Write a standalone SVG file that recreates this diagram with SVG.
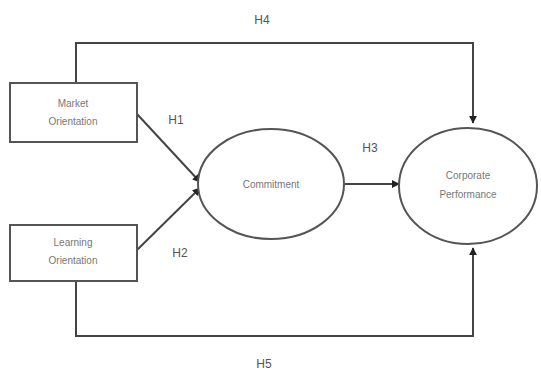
<svg xmlns="http://www.w3.org/2000/svg" width="541" height="374" viewBox="0 0 541 374">
<defs>
<marker id="ah" viewBox="0 0 10 10" refX="9" refY="5" markerWidth="4" markerHeight="4" orient="auto"><path d="M0,0 L10,5 L0,10 z" fill="#222"/></marker>
<style>
.box{fill:#fff;stroke:#555;stroke-width:2}
.ell{fill:#fff;stroke:#555;stroke-width:2}
.t{font-family:"Liberation Sans",Arial,sans-serif;font-size:10px;fill:#777;text-anchor:middle}
.lab{font-family:"Liberation Sans",Arial,sans-serif;font-size:12px;fill:#555;text-anchor:middle}
.c{fill:none;stroke:#444;stroke-width:2}
</style>
</defs>
<rect width="541" height="374" fill="#fff"/>
<g id="connectors">
<polyline class="c" points="76,83 76,43 473,43 473,123" marker-end="url(#ah)"/>
<polyline class="c" points="76,281 76,336 473,336 473,248" marker-end="url(#ah)"/>
<line class="c" x1="137" y1="114" x2="200" y2="182" marker-end="url(#ah)"/>
<line class="c" x1="137" y1="250" x2="200" y2="188" marker-end="url(#ah)"/>
<line class="c" x1="345" y1="184" x2="399" y2="184" marker-end="url(#ah)"/>
<text class="lab" x="262" y="24">H4</text>
<text class="lab" x="264" y="368">H5</text>
<text class="lab" x="176" y="124">H1</text>
<text class="lab" x="180" y="257">H2</text>
<text class="lab" x="370" y="152">H3</text>
</g>
<g id="market">
<rect class="box" x="10" y="83" width="127" height="59"/>
<text class="t" x="73" y="107">Market</text>
<text class="t" x="73" y="125">Orientation</text>
</g>
<g id="learning">
<rect class="box" x="10" y="225" width="127" height="56"/>
<text class="t" x="73" y="246">Learning</text>
<text class="t" x="73" y="264">Orientation</text>
</g>
<g id="commitment">
<ellipse class="ell" cx="271" cy="184" rx="73" ry="55"/>
<text class="t" x="271" y="188">Commitment</text>
</g>
<g id="performance">
<ellipse class="ell" cx="468" cy="186" rx="69" ry="58"/>
<text class="t" x="468" y="179">Corporate</text>
<text class="t" x="468" y="198">Performance</text>
</g>
</svg>
